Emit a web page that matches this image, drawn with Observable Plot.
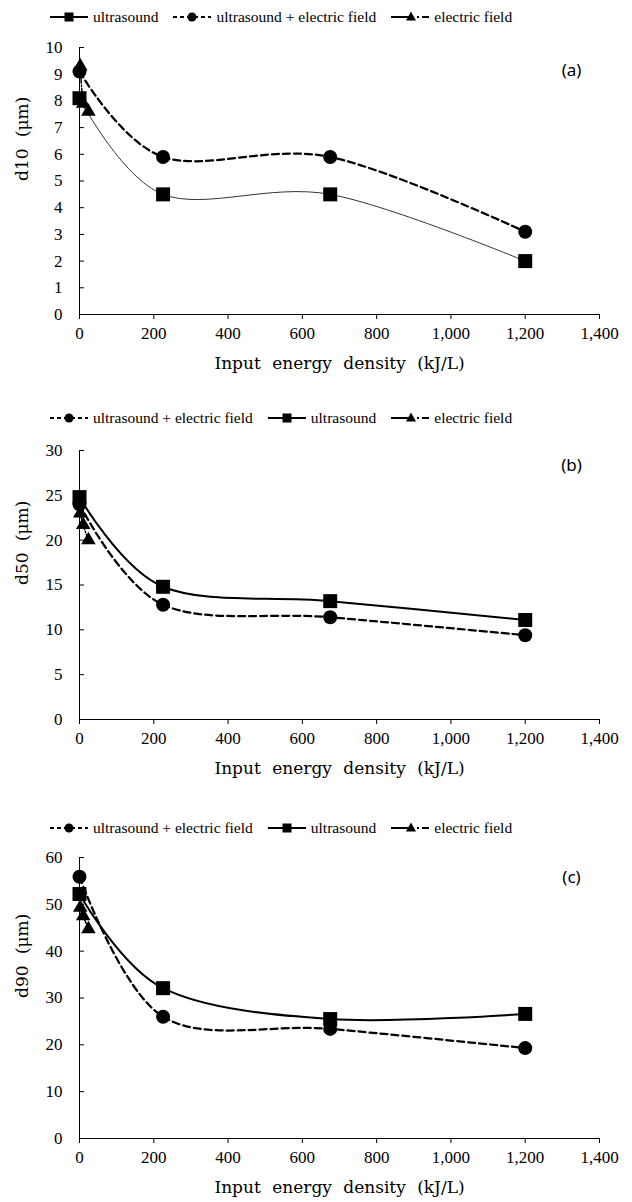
<!DOCTYPE html>
<html><head><meta charset="utf-8">
<script src="https://cdn.jsdelivr.net/npm/d3@7"></script>
<script src="https://cdn.jsdelivr.net/npm/@observablehq/plot@0.6"></script>
<style>
html,body{margin:0;padding:0;background:#fff;}
body{width:632px;height:1202px;position:relative;overflow:hidden;}
.legend{position:absolute;height:24px;display:flex;align-items:center;font-family:"Liberation Serif",serif;font-size:15.5px;color:#000;white-space:nowrap;}
.legend .item{display:flex;align-items:center;margin-right:15px;}
.legend svg{margin-right:5px;overflow:visible;}
.panel{position:absolute;left:0;}
</style></head><body>
<script>
// ---- data ----
const xTicks = [0, 200, 400, 600, 800, 1000, 1200, 1400];
const usX = [0, 225, 675, 1200];
const usefX = [0, 225, 675, 1200];
const efX = [2, 10, 24];

const d10Ticks = [0, 1, 2, 3, 4, 5, 6, 7, 8, 9, 10];
const d10Us = [8.1, 4.5, 4.5, 2.0];
const d10Usef = [9.1, 5.9, 5.9, 3.1];
const d10Ef = [9.3, 7.9, 7.6];

const d50Ticks = [0, 5, 10, 15, 20, 25, 30];
const d50Us = [24.8, 14.8, 13.2, 11.1];
const d50Usef = [24.0, 12.8, 11.4, 9.4];
const d50Ef = [23.0, 21.7, 20.0];

const d90Ticks = [0, 10, 20, 30, 40, 50, 60];
const d90Us = [52.2, 32.1, 25.5, 26.6];
const d90Usef = [55.9, 26.0, 23.4, 19.3];
const d90Ef = [49.3, 47.5, 44.7];

const seriesNames = {us: "ultrasound", usef: "ultrasound + electric field", ef: "electric field"};
const xLabel = "Input energy density (kJ/L)";

// ---- helpers ----
const toRows = (xs, ys) => xs.map((x, i) => ({x, y: ys[i]}));

function legend(top, order) {
  const div = d3.select("body").append("div").attr("class", "legend")
    .style("top", top + "px").style("left", "50px");
  for (const key of order) {
    const item = div.append("div").attr("class", "item");
    const svg = item.append("svg").attr("width", 38).attr("height", 16);
    const line = svg.append("line").attr("x1", 0).attr("x2", 38).attr("y1", 8).attr("y2", 8)
      .attr("stroke", "#000").attr("stroke-width", 2);
    if (key === "us") {
      svg.append("rect").attr("x", 14.5).attr("y", 3.5).attr("width", 9).attr("height", 9).attr("fill", "#000");
    } else if (key === "usef") {
      line.attr("stroke-dasharray", "4,3");
      svg.append("circle").attr("cx", 19).attr("cy", 8).attr("r", 4.5).attr("fill", "#000");
    } else {
      line.attr("stroke-dasharray", "20,6,2,3,7");
      svg.append("path").attr("d", "M20,2.5L25,11.5L15,11.5Z").attr("fill", "#000");
    }
    item.append("span").text(seriesNames[key]);
  }
}

function panel({top, marginTop, height, yTicks, yLabel, us, usef, ef, tag, tagDy, usWidth}) {
  const yMax = yTicks[yTicks.length - 1];
  const chart = Plot.plot({
    width: 632,
    height,
    marginLeft: 79,
    marginRight: 33,
    marginTop,
    marginBottom: 60,
    style: {fontFamily: "Liberation Serif", fontSize: "17px", color: "#000", background: "#fff", overflow: "visible"},
    x: {domain: [0, 1400]},
    y: {domain: [0, yMax]},
    marks: [
      Plot.ruleY([0]),
      Plot.ruleX([0]),
      Plot.axisX({ticks: xTicks, tickFormat: d3.format(","), tickSize: 5, tickPadding: 7, label: null, fontSize: 17}),
      Plot.axisY({ticks: yTicks, tickSize: -5, tickPadding: 22, label: null, fontSize: 17}),
      Plot.text([xLabel], {text: d => d, frameAnchor: "bottom", dy: 49, lineAnchor: "middle", fontFamily: "DejaVu Serif", fontSize: 17}),
      Plot.text([yLabel], {text: d => d, frameAnchor: "left", dx: -57, rotate: -90, lineAnchor: "middle", fontFamily: "DejaVu Serif", fontSize: 17}),
      Plot.text([tag], {text: d => d, frameAnchor: "top-right", dx: -28, dy: tagDy, textAnchor: "middle", lineAnchor: "middle", fontFamily: "Noto Sans", fontSize: 17}),
      Plot.line(toRows(efX, ef), {x: "x", y: "y", curve: "cardinal", stroke: "#000", strokeWidth: 1.5, strokeDasharray: "6,2,1,2"}),
      Plot.line(toRows(usX, us), {x: "x", y: "y", curve: "cardinal", stroke: usWidth < 1.5 ? "#333" : "#000", strokeWidth: usWidth}),
      Plot.line(toRows(usefX, usef), {x: "x", y: "y", curve: "cardinal", stroke: "#000", strokeWidth: 2.25, strokeDasharray: "7,4"}),
      Plot.dot(toRows(usefX, usef), {x: "x", y: "y", symbol: "circle", r: 7, fill: "#000", stroke: "none"}),
      Plot.dot(toRows(usX, us), {x: "x", y: "y", symbol: "square", r: 7.9, fill: "#000", stroke: "none"}),
      Plot.dot(toRows(efX, ef), {x: "x", y: "y", symbol: "triangle", r: 5.4, fill: "#000", stroke: "none"})
    ]
  });
  d3.select(chart).selectAll("text").filter(function() {
    const t = this.textContent; return t === xLabel || t === yLabel;
  }).style("word-spacing", "6px");
  const wrap = d3.select("body").append("div").attr("class", "panel").style("top", top + "px");
  wrap.node().appendChild(chart);
}

legend(5, ["us", "usef", "ef"]);
panel({top: 30, marginTop: 17, height: 344, yTicks: d10Ticks, yLabel: "d10 (μm)", us: d10Us, usef: d10Usef, ef: d10Ef, tag: "(a)", tagDy: 23, usWidth: 1});

legend(406, ["usef", "us", "ef"]);
panel({top: 432, marginTop: 18, height: 347, yTicks: d50Ticks, yLabel: "d50 (μm)", us: d50Us, usef: d50Usef, ef: d50Ef, tag: "(b)", tagDy: 15, usWidth: 2});

legend(816, ["usef", "us", "ef"]);
panel({top: 840, marginTop: 17, height: 358, yTicks: d90Ticks, yLabel: "d90 (μm)", us: d90Us, usef: d90Usef, ef: d90Ef, tag: "(c)", tagDy: 20, usWidth: 2});
</script>
</body></html>
